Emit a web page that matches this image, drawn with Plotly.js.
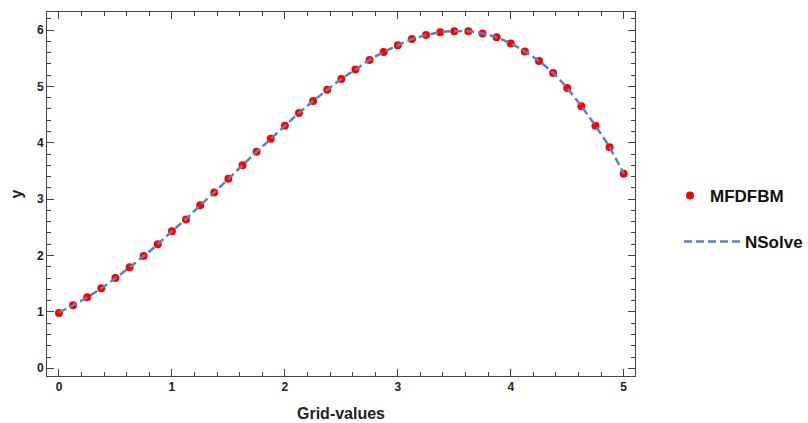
<!DOCTYPE html>
<html>
<head>
<meta charset="utf-8">
<script src="https://cdn.plot.ly/plotly-3.0.1.min.js"></script>
<style>html,body{margin:0;padding:0;background:#fff;}#chart{width:808px;height:423px;}</style>
</head>
<body>
<div id="chart"></div>
<script>
// Grid points (x) and values
var gridValues = [0, 0.125, 0.25, 0.375, 0.5, 0.625, 0.75, 0.875, 1.0, 1.125, 1.25, 1.375, 1.5, 1.625, 1.75, 1.875, 2.0,
  2.125, 2.25, 2.375, 2.5, 2.625, 2.75, 2.875, 3.0, 3.125, 3.25, 3.375, 3.5, 3.625, 3.75, 3.875, 4.0,
  4.125, 4.25, 4.375, 4.5, 4.625, 4.75, 4.875, 5.0];
var mfdfbmValues = [0.98, 1.12, 1.26, 1.42, 1.60, 1.79, 1.99, 2.20, 2.43, 2.64, 2.89, 3.12, 3.36, 3.60, 3.84, 4.07, 4.30,
  4.53, 4.74, 4.94, 5.13, 5.30, 5.47, 5.61, 5.73, 5.84, 5.91, 5.96, 5.98, 5.98, 5.94, 5.87, 5.76,
  5.62, 5.45, 5.24, 4.97, 4.65, 4.30, 3.92, 3.45];
var nsolveX = gridValues.slice();
var nsolveY = [0.99, 1.12, 1.26, 1.42, 1.60, 1.79, 1.99, 2.20, 2.43, 2.65, 2.89, 3.12, 3.36, 3.60, 3.84, 4.07, 4.30,
  4.53, 4.74, 4.94, 5.13, 5.30, 5.47, 5.61, 5.73, 5.84, 5.91, 5.96, 5.98, 5.98, 5.94, 5.87, 5.76,
  5.62, 5.45, 5.24, 4.97, 4.65, 4.30, 3.92, 3.45];
var xTickVals = [0, 1, 2, 3, 4, 5];
var yTickVals = [0, 1, 2, 3, 4, 5, 6];

var fontFam = '"Liberation Sans", Arial, sans-serif';
var traces = [
  {
    x: gridValues, y: mfdfbmValues, type: 'scatter', mode: 'markers', name: 'MFDFBM',
    marker: {color: '#FF0000', size: 8},
    legend: 'legend'
  },
  {
    x: nsolveX, y: nsolveY, type: 'scatter', mode: 'lines', name: 'NSolve',
    line: {color: '#5E81B5', width: 2.5, dash: '8px,4px', shape: 'spline'},
    legend: 'legend2'
  }
];
var axisCommon = {
  showline: true, linecolor: '#444', linewidth: 1, mirror: 'ticks',
  ticks: 'inside', ticklen: 7, tickwidth: 1, tickcolor: '#444',
  showgrid: false, zeroline: false,
  tickfont: {family: fontFam, size: 12, color: '#222', weight: 'bold'},
  minor: {ticks: 'inside', ticklen: 4, tickwidth: 1, tickcolor: '#444', dtick: 0.2, showgrid: false}
};
var layout = {
  width: 808, height: 423,
  margin: {l: 47, r: 173, t: 12, b: 47},
  paper_bgcolor: '#fff', plot_bgcolor: '#fff',
  showlegend: true,
  xaxis: Object.assign({}, axisCommon, {
    range: [-0.106, 5.1], tickvals: xTickVals, ticktext: xTickVals.map(String),
    title: {text: 'Grid-values', font: {family: fontFam, size: 16, color: '#222', weight: 'bold'}, standoff: 14}
  }),
  yaxis: Object.assign({}, axisCommon, {
    range: [-0.137, 6.32], tickvals: yTickVals, ticktext: yTickVals.map(String),
    title: {text: 'y', font: {family: fontFam, size: 16, color: '#222', weight: 'bold'}, standoff: 10}
  }),
  legend: {
    xref: 'container', yref: 'container', x: 670/808, y: 1 - 196/423, xanchor: 'left', yanchor: 'middle',
    font: {family: fontFam, size: 17, color: '#111', weight: 'bold'},
    bgcolor: 'rgba(0,0,0,0)', borderwidth: 0
  },
  legend2: {
    xref: 'container', yref: 'container', x: 679/808, y: 1 - 242/423, xanchor: 'left', yanchor: 'middle',
    font: {family: fontFam, size: 17, color: '#111', weight: 'bold'},
    bgcolor: 'rgba(0,0,0,0)', borderwidth: 0, itemwidth: 56
  }
};
Plotly.newPlot('chart', traces, layout, {displayModeBar: false, staticPlot: true});
</script>
</body>
</html>
